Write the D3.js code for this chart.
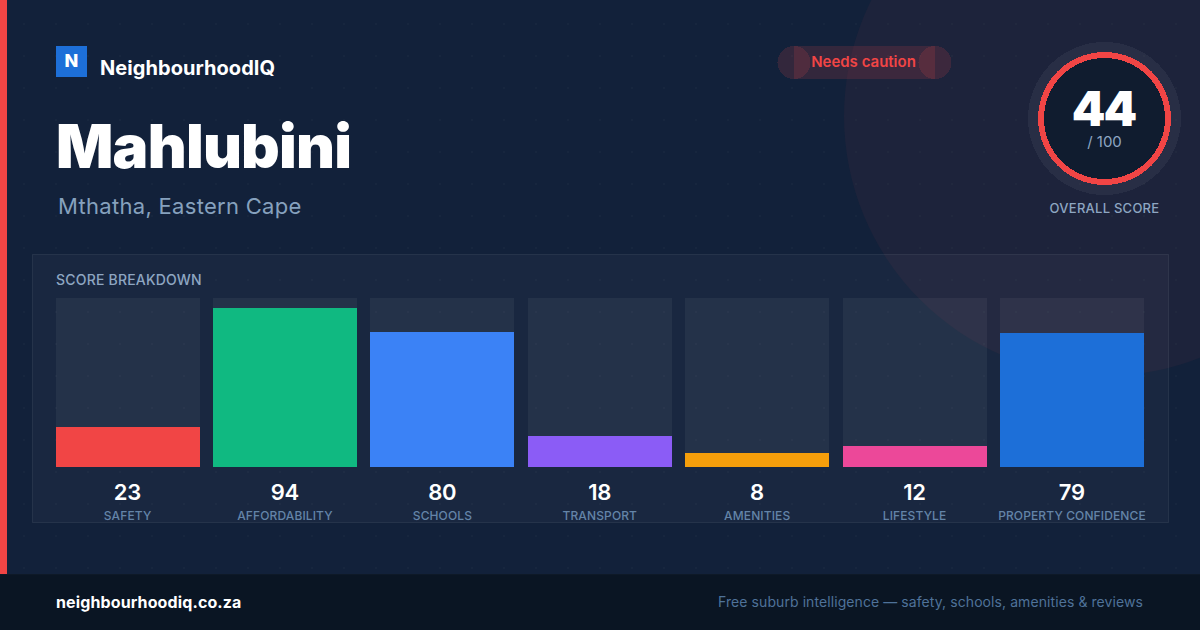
<!DOCTYPE html>
<html><head><meta charset="utf-8">
<script src="https://cdn.jsdelivr.net/npm/d3@7"></script>
<style>
html,body{margin:0;padding:0;background:#12213a;overflow:hidden}
svg{display:block}
text{font-family:Inter,sans-serif}
</style></head><body>
<svg id="c" width="1200" height="630"></svg>
<script>
const categories = ["SAFETY","AFFORDABILITY","SCHOOLS","TRANSPORT","AMENITIES","LIFESTYLE","PROPERTY CONFIDENCE"];
const scores = [23,94,80,18,8,12,79];
const barColors = ["#f14545","#10b981","#3b82f6","#8b5cf6","#f59e0b","#ec4899","#1d6fd8"];
const overallScore = 44;
const red = "#f14545";

const svg = d3.select("#c");
svg.append("rect").attr("width",1200).attr("height",630).attr("fill","#12213a");

// dot grid
const dotXs = d3.range(24,1200,32), dotYs = d3.range(24,630,32);
const dots = svg.append("g").attr("fill","rgba(255,255,255,0.025)");
dotYs.forEach(y=>dotXs.forEach(x=>dots.append("rect").attr("x",x-1).attr("y",y-1).attr("width",2).attr("height",2)));

// big translucent circle
svg.append("circle").attr("cx",1104).attr("cy",116).attr("r",260).attr("fill","rgba(244,71,71,0.05)");

// accent
svg.append("rect").attr("x",0).attr("y",0).attr("width",7).attr("height",574).attr("fill",red);

// logo
svg.append("rect").attr("x",56).attr("y",46).attr("width",31).attr("height",31).attr("fill","#1d6fd8");
svg.append("text").attr("x",71.5).attr("y",67).attr("text-anchor","middle").attr("font-size",18).attr("font-weight",800).attr("fill","#fff").text("N");
svg.append("text").attr("x",100).attr("y",75).attr("font-size",20).attr("font-weight",700).attr("letter-spacing",0.06).attr("fill","#fff").text("NeighbourhoodIQ");

// title
svg.append("text").attr("x",56).attr("y",168).attr("font-size",60).attr("font-weight",900).attr("letter-spacing",-0.75).attr("fill","#fff").text("Mahlubini");
svg.append("text").attr("x",58).attr("y",214).attr("font-size",22).attr("letter-spacing",0.3).attr("fill","#86a1be").text("Mthatha, Eastern Cape");

// pill
const pill = svg.append("g").attr("fill","rgba(244,71,71,0.15)").style("shape-rendering","crispEdges");
pill.append("rect").attr("x",794).attr("y",46).attr("width",141).attr("height",33);
pill.append("circle").attr("cx",794).attr("cy",62.5).attr("r",16.5);
pill.append("circle").attr("cx",935).attr("cy",62.5).attr("r",16.5);
svg.append("text").attr("x",863.5).attr("y",67).attr("text-anchor","middle").attr("font-size",15).attr("font-weight",600).attr("fill",red).text("Needs caution");

// gauge
const g = svg.append("g").style("shape-rendering","crispEdges");
g.append("circle").attr("cx",1104.5).attr("cy",118.5).attr("r",76.5).attr("fill","rgba(255,255,255,0.05)");
g.append("circle").attr("cx",1104.5).attr("cy",118.5).attr("r",66.5).attr("fill",red);
g.append("circle").attr("cx",1104.5).attr("cy",118.5).attr("r",60.5).attr("fill","#101c2f");
svg.append("text").attr("x",1103.5).attr("y",126).attr("text-anchor","middle").attr("font-size",48).attr("font-weight",900).attr("letter-spacing",-2).attr("fill","#fff").text(overallScore);
svg.append("text").attr("x",1104.5).attr("y",147).attr("text-anchor","middle").attr("font-size",15).attr("fill","#8ea6c2").text("/ 100");
svg.append("text").attr("x",1104.5).attr("y",213).attr("text-anchor","middle").attr("font-size",13).attr("font-weight",500).attr("letter-spacing",0.25).attr("fill","#8ea6c2").text("OVERALL SCORE");

// panel
svg.append("rect").attr("x",32.5).attr("y",254.5).attr("width",1136).attr("height",268)
  .attr("fill","rgba(255,255,255,0.03)").attr("stroke","rgba(255,255,255,0.07)");
svg.append("text").attr("x",56).attr("y",285).attr("font-size",14).attr("font-weight",500).attr("letter-spacing",0.2).attr("fill","#8ea6c2").text("SCORE BREAKDOWN");

// bars
const x = d3.scaleBand().domain(categories).range([55.6,1144]).paddingInner(0.08513);
const y = d3.scaleLinear().domain([0,100]).range([466,298]);
const trackBottom = 467;
const col = svg.selectAll("g.col").data(categories).join("g").attr("class","col");
col.append("rect").attr("x",d=>Math.round(x(d))).attr("y",y(100)).attr("width",144).attr("height",trackBottom-y(100)).attr("fill","rgba(255,255,255,0.05)");
col.append("rect").attr("x",d=>Math.round(x(d))).attr("width",144)
  .attr("y",(d,i)=>Math.round(y(scores[i]))).attr("height",(d,i)=>trackBottom-Math.round(y(scores[i])))
  .attr("fill",(d,i)=>barColors[i]);
col.append("text").attr("x",d=>x(d)+71.8).attr("y",499.5).attr("text-anchor","middle").attr("font-size",22).attr("font-weight",600).attr("letter-spacing",-0.3).attr("fill","#fff").text((d,i)=>scores[i]);
col.append("text").attr("x",d=>x(d)+72).attr("y",520).attr("text-anchor","middle").attr("font-size",12).attr("font-weight",500).attr("letter-spacing",0.12).attr("fill","#6484a8").text(d=>d);

// footer
svg.append("rect").attr("x",0).attr("y",574).attr("width",1200).attr("height",56).attr("fill","#0a1523");
svg.append("rect").attr("x",0).attr("y",574).attr("width",1200).attr("height",1).attr("fill","rgba(255,255,255,0.02)");
svg.append("text").attr("x",56).attr("y",608).attr("font-size",16).attr("font-weight",700).attr("letter-spacing",0.12).attr("fill","#fff").text("neighbourhoodiq.co.za");
svg.append("text").attr("x",1143).attr("y",607).attr("text-anchor","end").attr("font-size",14).attr("letter-spacing",0.08).attr("fill","#4f7299").text("Free suburb intelligence — safety, schools, amenities & reviews");
</script></body></html>
